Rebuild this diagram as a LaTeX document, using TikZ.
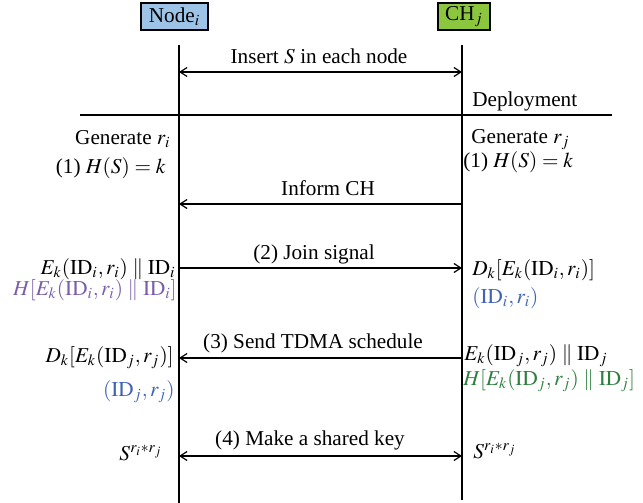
\documentclass[tikz,border=0pt]{standalone}
\usepackage{mathptmx}
\usepackage{fontspec}
\setmainfont{Liberation Serif}
\usetikzlibrary{arrows.meta, positioning}

\definecolor{nodeblue}{HTML}{9DC3E6}
\definecolor{chgreen}{HTML}{8CC63F}
\definecolor{macpurple}{HTML}{7B5EA7}
\definecolor{idblue}{HTML}{3F63B5}
\definecolor{macgreen}{HTML}{2D7F3E}

\newcommand{\ID}{\mathrm{ID}}

\begin{document}
\begin{tikzpicture}[
    x=0.5pt, y=-0.5pt,
    every node/.style={font=\fontsize{10.6}{12}\selectfont, inner sep=0pt},
    head/.style={draw, line width=0.6pt, minimum height=13.5pt},
    msg/.style={line width=0.6pt},
    >={Straight Barb[length=3.5pt, width=4.5pt]}
  ]
  \useasboundingbox (0,0) rectangle (643,503);

  % the two parties
  \node[head, fill=nodeblue, minimum width=33.5pt] (nodei) at (174.5,16.5) {Node$_i$};
  \node[head, fill=chgreen, minimum width=26pt] (chj) at (464,16.5) {CH$_j$};

  % lifelines
  \coordinate (topi) at (179,45);  \coordinate (boti) at (179,503);
  \coordinate (topj) at (462,45);  \coordinate (botj) at (462,500);
  \draw[msg] (topi) -- (boti);
  \draw[msg] (topj) -- (botj);

  % end points of the messages on both lifelines
  \foreach \n/\y in {ins/72, inf/204, join/268, tdma/358, key/456} {
    \coordinate (\n i) at (179,\y);
    \coordinate (\n j) at (462,\y);
  }

  % deployment phase
  \draw[msg, <->] (insi) -- (insj);
  \node[anchor=base] (inslbl) at (319,63) {Insert $S$ in each node};
  \coordinate (sepl) at (80,115);  \coordinate (sepr) at (612,115);
  \draw[msg] (sepl) -- (sepr);
  \node[anchor=base west] (deploy) at (472,106) {Deployment};

  % key setup
  \node[anchor=base east] (genri) at (171,144) {Generate $r_i$};
  \node[anchor=base east] (hashi) at (166,173) {(1) $H(S) = k$};
  \node[anchor=base west] (genrj) at (471,143) {Generate $r_j$};
  \node[anchor=base west] (hashj) at (463,167) {(1) $H(S) = k$};

  \draw[msg, ->] (infj) -- (infi);
  \node[anchor=base] (inflbl) at (328,195) {Inform CH};

  % join
  \draw[msg, ->] (joini) -- (joinj);
  \node[anchor=base] (joinlbl) at (314,259) {(2) Join signal};
  \node[anchor=base east] (enci) at (176,274) {$E_k(\ID_i, r_i) \parallel \ID_i$};
  \node[anchor=base east, text=macpurple] (maci) at (177,295)
    {$H[E_k(\ID_i, r_i) \parallel \ID_i]$};
  \node[anchor=base west] (decj) at (472,275) {$D_k[E_k(\ID_i, r_i)]$};
  \node[anchor=base west, text=idblue] (idi) at (472,303) {$(\ID_i, r_i)$};

  % schedule
  \draw[msg, ->] (tdmaj) -- (tdmai);
  \node[anchor=base] (tdmalbl) at (313,348) {(3) Send TDMA schedule};
  \node[anchor=base east] (deci) at (174,362) {$D_k[E_k(\ID_j, r_j)]$};
  \node[anchor=base east, text=idblue] (idj) at (175,396) {$(\ID_j, r_j)$};
  \node[anchor=base west] (encj) at (464,360) {$E_k(\ID_j, r_j) \parallel \ID_j$};
  \node[anchor=base west, text=macgreen] (macj) at (463,385)
    {$H[E_k(\ID_j, r_j) \parallel \ID_j]$};

  % shared key
  \draw[msg, <->] (keyi) -- (keyj);
  \node[anchor=base] (keylbl) at (310,445) {(4) Make a shared key};
  \node[anchor=base east] (keyl) at (163,460) {$S^{r_i * r_j}$};
  \node[anchor=base west] (keyr) at (473,458) {$S^{r_i * r_j}$};
\end{tikzpicture}
\end{document}
